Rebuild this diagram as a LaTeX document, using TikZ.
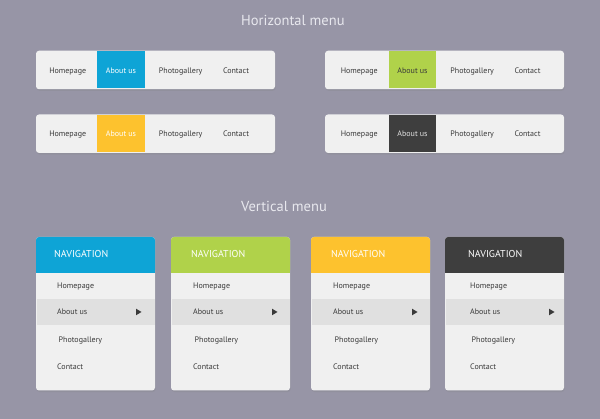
\documentclass[tikz,border=0pt]{standalone}
\usepackage{fontspec}
\setmainfont{PT Sans}
\usetikzlibrary{positioning,shadows}

\definecolor{bgcol}{RGB}{151,149,166}
\definecolor{barcol}{RGB}{240,240,240}
\definecolor{bandcol}{RGB}{224,224,224}
\definecolor{textcol}{RGB}{58,58,58}
\definecolor{titlecol}{RGB}{232,232,238}
\definecolor{lightcol}{RGB}{225,225,225}
\definecolor{cblue}{RGB}{14,164,214}
\definecolor{cgreen}{RGB}{176,210,74}
\definecolor{cyellow}{RGB}{253,194,46}
\definecolor{cdark}{RGB}{62,62,62}

\begin{document}
\begin{tikzpicture}[x=1pt,y=-1pt,
    shade/.style={drop shadow={opacity=0.22,shadow xshift=0.6pt,shadow yshift=-1.6pt}},
    bar/.style={fill=barcol,rounded corners=3pt,shade,minimum width=239pt,minimum height=38.5pt},
    panel/.style={fill=barcol,rounded corners=3pt,shade,minimum width=119pt,minimum height=153.5pt},
    item/.style={text=textcol,font=\fontsize{8}{10}\selectfont,inner sep=0pt,text height=7pt,text depth=0.5pt},
    vitem/.style={item,anchor=west},
    hl/.style={item,minimum width=47.5pt,minimum height=37pt},
    head/.style={text=white,font=\fontsize{10}{12}\selectfont,anchor=west,inner sep=0pt,text height=8pt,text depth=0pt},
    title/.style={text=titlecol,font=\fontsize{14.5}{16}\selectfont,anchor=west,inner sep=0pt}]
  \fill[bgcol] (0,0) rectangle (600,419);
  \useasboundingbox (0,0) rectangle (600,419);

  \node[title] (htitle) at (241,20) {Horizontal menu};
  \node[title] (vtitle) at (241,206) {Vertical menu};

  % horizontal menus
  \foreach \bx/\by/\tx/\col/\tcol/\n in {36/70/0/cblue/white/a, 325/70/291.5/cgreen/textcol/b,
      36/133.7/0/cyellow/white/c, 325/133.7/291.5/cdark/lightcol/d}{
    \node[bar] (bar\n) at (\bx+119.5,\by) {};
    \node[item] (home\n) at (\tx+67.7,\by) {Homepage};
    \node[hl,fill=\col,text=\tcol] (about\n) at (\tx+121,\by) {About us};
    \node[item] (photo\n) at (\tx+180.7,\by) {Photogallery};
    \node[item] (contact\n) at (\tx+236,\by) {Contact};
  }

  % vertical menus
  \foreach \px/\col/\hx/\tx/\n in {36/cblue/54/57/a, 171/cgreen/191/193/b,
      311/cyellow/331/333/c, 445/cdark/468/470/d}{
    \node[panel] (panel\n) at (\px+59.5,313.75) {};
    \fill[\col,rounded corners=3pt] (\px,237) rectangle (\px+119,273);
    \fill[\col] (\px,262) rectangle (\px+119,273);
    \fill[bandcol] (\px+0.5,299) rectangle (\px+118.5,325);
    \node[head] (nav\n) at (\hx,253.5) {NAVIGATION};
    \node[vitem] (vhome\n) at (\tx,285) {Homepage};
    \node[vitem] (vabout\n) at (\tx,311.7) {About us};
    \node[vitem] (vphoto\n) at (\tx+1.5,339.7) {Photogallery};
    \node[vitem] (vcontact\n) at (\tx,366.3) {Contact};
    \fill[textcol] (\tx+79,308.7) -- (\tx+84.5,312) -- (\tx+79,315.3) -- cycle;
  }
\end{tikzpicture}
\end{document}
